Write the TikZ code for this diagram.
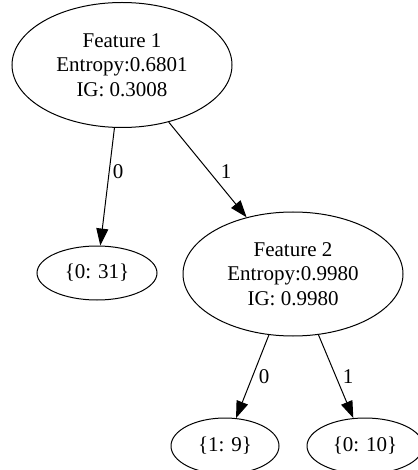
\documentclass[tikz,border=0pt]{standalone}
\usepackage{fontspec}
\setmainfont{Liberation Serif}
\usetikzlibrary{shapes.geometric,arrows.meta}
\tikzset{
  treenode/.style={ellipse, draw, line width=1bp, inner sep=0pt, align=center,
    font=\fontsize{21bp}{24.5bp}\selectfont},
  edgelbl/.style={inner sep=0pt, font=\fontsize{21bp}{24bp}\selectfont},
  treeedge/.style={line width=1bp, -{Triangle[length=17bp,width=12bp]}},
}
\begin{document}
\begin{tikzpicture}[x=1bp,y=-1bp]
\useasboundingbox (0,0) rectangle (417,470);
\node[treenode, minimum width=220bp, minimum height=125bp] (f1) at (122,65) {Feature 1\\Entropy:0.6801\\IG: 0.3008};
\node[treenode, minimum width=120bp, minimum height=54bp] (l1) at (97,273) {\{0: 31\}};
\node[treenode, minimum width=220bp, minimum height=124bp] (f2) at (293,274) {Feature 2\\Entropy:0.9980\\IG: 0.9980};
\node[treenode, minimum width=108bp, minimum height=56bp] (l2) at (225,446) {\{1: 9\}};
\node[treenode, minimum width=116bp, minimum height=56bp] (l3) at (365,446) {\{0: 10\}};
\draw[treeedge] (f1) -- (l1);
\draw[treeedge] (f1) -- (f2);
\draw[treeedge] (f2) -- (l2);
\draw[treeedge] (f2) -- (l3);
\node[edgelbl] (e1) at (118,172) {0};
\node[edgelbl] (e2) at (226,172) {1};
\node[edgelbl] (e3) at (264,377) {0};
\node[edgelbl] (e4) at (348,377) {1};
\end{tikzpicture}
\end{document}
